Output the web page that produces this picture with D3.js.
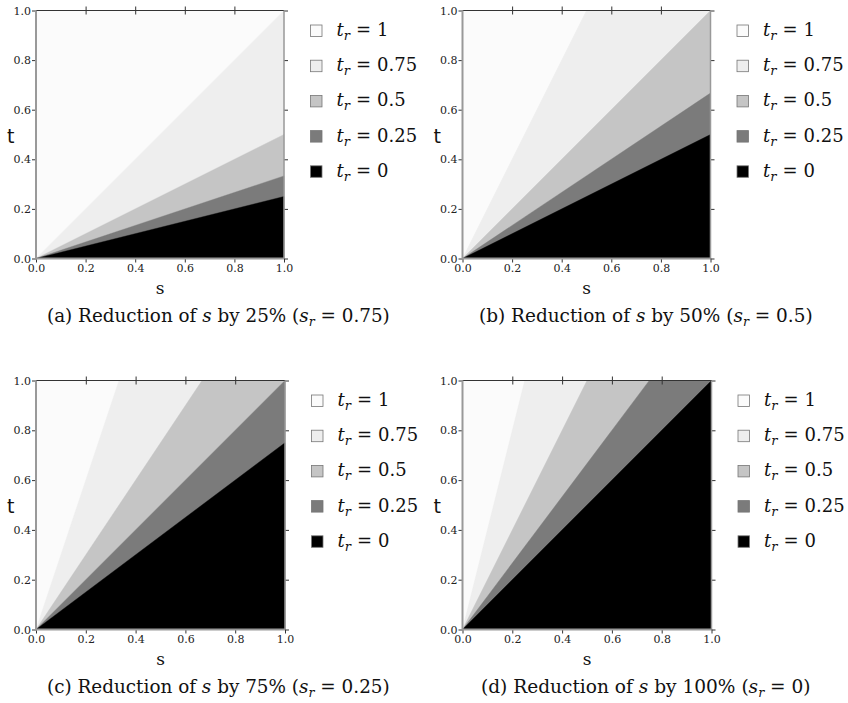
<!DOCTYPE html>
<meta charset="utf-8">
<head>
  <style>
    body { margin: 0; background: #fff; }
    svg { display: block; background: #fff; }
    .serif { font-family: "DejaVu Serif", serif; }
    .leg text { font-family: "DejaVu Serif", serif; font-size: 18px; fill: #111; }
    .cap { font-family: "DejaVu Serif", serif; font-size: 19px; fill: #111; }
  </style>
  <script src="https://cdn.jsdelivr.net/npm/d3@7"></script>
</head>
<body>
<script>
  // boundary slopes (t = k * s) between neighbouring t_r regions, steepest first
  var slopesA = [1, 0.5, 0.333, 0.25]
    , slopesB = [2, 1, 0.667, 0.5]
    , slopesC = [3, 1.5, 1, 0.75]
    , slopesD = [4, 2, 1.333, 1]
    , captions = ["(a)", "(b)", "(c)", "(d)"]
    , reductions = ["25%", "50%", "75%", "100%"]
    , srValues = ["0.75", "0.5", "0.25", "0"]
    , trLabels = ["1", "0.75", "0.5", "0.25", "0"]
    , tickValues = [0, 0.2, 0.4, 0.6, 0.8, 1.0]
    ;

  var colors = ["#fbfbfb", "#eeeeee", "#c5c5c5", "#7b7b7b", "#000000"];

  var svg = d3.select("body").append("svg")
      .attr("width", 848)
      .attr("height", 703);

  var panels = [
    {slopes: slopesA, x: 36,    y: 10.5,  size: 248, capX: 47,  capW: 343},
    {slopes: slopesB, x: 462.5, y: 10.5,  size: 248, capX: 479, capW: 334},
    {slopes: slopesC, x: 36,    y: 380.5, size: 249, capX: 47,  capW: 343},
    {slopes: slopesD, x: 462.5, y: 380.5, size: 249, capX: 481, capW: 330}
  ];

  panels.forEach(function(p, i) {
    var size = p.size;
    var g = svg.append("g").attr("transform", "translate(" + p.x + "," + p.y + ")");
    var x = d3.scaleLinear().domain([0, 1]).range([0, size]);
    var y = d3.scaleLinear().domain([0, 1]).range([size, 0]);

    // whole square = t_r = 1
    g.append("rect")
        .attr("x", x(0)).attr("y", y(1))
        .attr("width", x(1) - x(0)).attr("height", y(0) - y(1))
        .attr("fill", colors[0]);

    // region under each boundary line, darker as the slope gets shallower
    p.slopes.forEach(function(k, j) {
      var pts = k <= 1
        ? [[0, 0], [1, 0], [1, k]]
        : [[0, 0], [1, 0], [1, 1], [1 / k, 1]];
      g.append("path")
          .attr("d", "M" + pts.map(function(d) { return [x(d[0]), y(d[1])]; }).join("L") + "Z")
          .attr("fill", colors[j + 1])
          .attr("stroke", colors[j + 1])
          .attr("stroke-width", 0.4);
    });

    // axes
    var fmt = d3.format(".1f");
    var bottom = g.append("g").attr("transform", "translate(0," + size + ")")
        .call(d3.axisBottom(x).tickValues(tickValues).tickFormat(fmt).tickSize(4).tickPadding(2));
    var left = g.append("g")
        .call(d3.axisLeft(y).tickValues(tickValues).tickFormat(fmt).tickSize(4).tickPadding(1));
    var top = g.append("g")
        .call(d3.axisTop(x).tickValues(tickValues).tickFormat("").tickSize(4));
    top.selectAll(".tick line").attr("y2", -4).attr("y1", 4);
    var right = g.append("g").attr("transform", "translate(" + size + ",0)")
        .call(d3.axisRight(y).tickValues(tickValues).tickFormat("").tickSize(4));

    [bottom, left, top, right].forEach(function(a) {
      a.select(".domain").remove();
      a.attr("font-family", "DejaVu Serif").attr("font-size", 11);
      a.selectAll(".tick line").attr("stroke", "#333");
      a.selectAll(".tick text").attr("fill", "#222");
    });
    top.selectAll(".tick").filter(function(d) { return d === 0 || d === 1; }).select("line").remove();

    // spines
    g.append("line").attr("x1", 0).attr("x2", size).attr("y1", 0).attr("y2", 0)
        .attr("stroke", "#333").attr("stroke-width", 1);
    g.append("line").attr("x1", size).attr("x2", size).attr("y1", 0).attr("y2", size)
        .attr("stroke", "#999").attr("stroke-width", 1.5);
    g.append("line").attr("x1", 0).attr("x2", 0).attr("y1", 0).attr("y2", size + 1)
        .attr("stroke", "#999").attr("stroke-width", 2);
    g.append("line").attr("x1", 0).attr("x2", size).attr("y1", size).attr("y2", size)
        .attr("stroke", "#999").attr("stroke-width", 2);

    // axis labels
    g.append("text")
        .attr("x", -29).attr("y", size / 2 + 8)
        .attr("font-family", "DejaVu Sans").attr("font-size", 19)
        .attr("fill", "#111")
        .text("t");
    g.append("text")
        .attr("class", "serif")
        .attr("x", size / 2).attr("y", size + 35)
        .attr("text-anchor", "middle")
        .attr("font-size", 17)
        .attr("fill", "#111")
        .text("s");

    // legend
    var leg = g.append("g").attr("class", "leg").attr("transform", "translate(" + (size + 27) + ",0)");
    trLabels.forEach(function(lab, j) {
      var row = leg.append("g").attr("transform", "translate(0," + (25.5 + j * 35.2) + ")");
      row.append("rect")
          .attr("x", -0.5).attr("y", -11).attr("width", 11.5).attr("height", 11.5)
          .attr("fill", colors[j]).attr("stroke", "#777").attr("stroke-width", 0.8);
      var t = row.append("text").attr("x", 25.5).attr("y", 0);
      t.append("tspan").attr("font-style", "italic").text("t");
      t.append("tspan").attr("font-style", "italic").attr("font-size", 13).attr("dy", 4).text("r");
      t.append("tspan").attr("dy", -4).attr("dx", 6).text("=");
      t.append("tspan").attr("dx", 6).text(lab);
    });

    // caption, fitted horizontally to the reference width
    var capG = svg.append("g");
    var cap = capG.append("text").attr("class", "cap").attr("x", 0).attr("y", 0);
    cap.append("tspan").text(captions[i] + " Reduction of ");
    cap.append("tspan").attr("font-style", "italic").text("s");
    cap.append("tspan").text(" by " + reductions[i] + " (");
    cap.append("tspan").attr("font-style", "italic").text("s");
    cap.append("tspan").attr("font-style", "italic").attr("font-size", 13).attr("dy", 4).text("r");
    cap.append("tspan").attr("dy", -4).text(" = " + srValues[i] + ")");
    var w = cap.node().getComputedTextLength();
    capG.attr("transform", "translate(" + p.capX + "," + (p.y + size + 63) + ")scale(" + (p.capW / w) + ",1)");
  });
</script>
</body>
